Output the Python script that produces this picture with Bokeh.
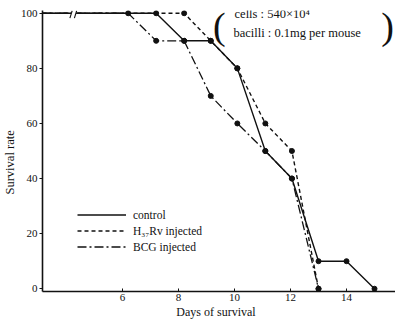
import math
from bokeh.plotting import figure
from bokeh.models import Range1d, FixedTicker, Label, Legend, LegendItem, Title
from bokeh.embed import file_html
from bokeh.resources import INLINE

# ---- data ----
x_start = 3.14
x_end = 15.75
control_days = [x_start, 7.2, 8.2, 9.15, 10.1, 11.1, 12.05, 13.0, 14.0, 15.0]
control_rate = [100, 100, 90, 90, 80, 50, 40, 10, 10, 0]
h37_days = [x_start, 8.2, 9.15, 10.1, 11.1, 12.05, 13.0]
h37_rate = [100, 100, 90, 80, 60, 50, 0]
bcg_days = [x_start, 6.2, 7.2, 8.2, 9.15, 10.1, 11.1, 12.05, 13.0]
bcg_rate = [100, 100, 90, 90, 70, 60, 50, 40, 0]
x_ticks = [6, 8, 10, 12, 14]
y_ticks = [0, 20, 40, 60, 80, 100]
break_day = 4.25
labels = ["control", "H\u2083\u2087Rv injected", "BCG injected"]

FONT = "Liberation Serif"
INK = "#111111"

p = figure(width=395, height=322, x_range=Range1d(x_start, x_end), y_range=Range1d(-1, 101),
           output_backend="svg", toolbar_location=None,
           min_border_left=42, min_border_right=0, min_border_top=10, min_border_bottom=31)
p.outline_line_color = None
p.xgrid.visible = False
p.ygrid.visible = False
p.background_fill_color = "white"

for ax in (p.xaxis[0], p.yaxis[0]):
    ax.axis_line_color = INK
    ax.axis_line_width = 1.6
    ax.major_tick_line_color = INK
    ax.minor_tick_line_color = None
    ax.major_label_text_font = FONT
    ax.major_label_text_font_size = "11px"
    ax.major_label_text_color = INK
    ax.axis_label_text_font = FONT
    ax.axis_label_text_font_style = "normal"
    ax.axis_label_text_color = INK

p.xaxis.ticker = FixedTicker(ticks=x_ticks)
p.xaxis.major_tick_in = 3
p.xaxis.major_tick_out = 0
p.xaxis.major_label_standoff = 2
p.xaxis.axis_label = "Days  of  survival"
p.xaxis.axis_label_text_font_size = "12px"
p.xaxis.axis_label_standoff = 1

p.yaxis.ticker = FixedTicker(ticks=y_ticks)
p.yaxis.major_tick_in = 0
p.yaxis.major_tick_out = 3
p.yaxis.major_label_standoff = 2

# y axis title in the left side panel
p.add_layout(Title(text="Survival  rate", text_font=FONT, text_font_size="12.5px",
                   text_font_style="normal", text_color=INK, align="left",
                   standoff=1, offset=97), "left")

r_c = p.line(control_days, control_rate, line_color=INK, line_width=1.4)
r_h = p.line(h37_days, h37_rate, line_color=INK, line_width=1.4, line_dash="4 3")
r_b = p.line(bcg_days, bcg_rate, line_color=INK, line_width=1.3, line_dash="9 3 2 3")
for d, r in ((control_days, control_rate), (h37_days, h37_rate), (bcg_days, bcg_rate)):
    p.scatter(d[1:], r[1:], size=5, color=INK)

# axis break mark on the 100 line
p.segment([break_day - 0.09], [100], [break_day + 0.09], [100], line_color="white", line_width=4)
p.segment([break_day - 0.13, break_day + 0.03], [98.2, 98.2], [break_day - 0.05, break_day + 0.11],
          [100.9, 100.9], line_color=INK, line_width=1.1)

legend = Legend(items=[LegendItem(label=labels[0], renderers=[r_c]),
                       LegendItem(label=labels[1], renderers=[r_h]),
                       LegendItem(label=labels[2], renderers=[r_b])],
                location=(35, 37), background_fill_alpha=0, border_line_color=None,
                padding=0, margin=0, spacing=1, glyph_width=49, glyph_height=15,
                label_height=15, label_standoff=7,
                label_text_font=FONT, label_text_font_size="11.5px", label_text_color=INK)
p.add_layout(legend)

# note in parentheses
p.add_layout(Label(x=9.46, y=95.3, text="(", text_align="center", text_baseline="middle",
                   text_font=FONT, text_font_size="38px", text_color=INK))
p.add_layout(Label(x=15.47, y=95.3, text=")", text_align="center", text_baseline="middle",
                   text_font=FONT, text_font_size="38px", text_color=INK))
p.add_layout(Label(x=10.0, y=99.6, text="cells : 540\u00d710\u2074", text_align="left",
                   text_baseline="middle", text_font=FONT, text_font_size="12.5px", text_color=INK))
p.add_layout(Label(x=9.96, y=93.0, text="bacilli : 0.1mg per mouse", text_align="left",
                   text_baseline="middle", text_font=FONT, text_font_size="12.5px", text_color=INK))

open("out.html", "w").write(file_html(p, INLINE))
